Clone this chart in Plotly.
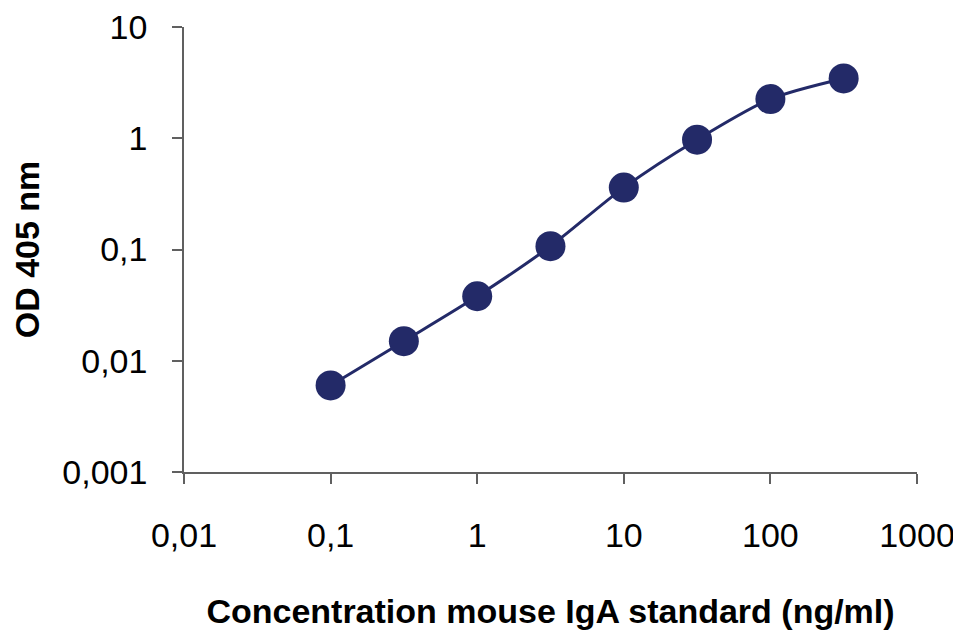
import plotly.graph_objects as go

conc = [0.1, 0.316, 1, 3.16, 10, 31.6, 100, 316]
od = [0.006, 0.015, 0.038, 0.107, 0.36, 0.97, 2.25, 3.45]

x_tickvals = [0.01, 0.1, 1, 10, 100, 1000]
x_ticktext = ["0,01", "0,1", "1", "10", "100", "1000"]
y_tickvals = [0.001, 0.01, 0.1, 1, 10]
y_ticktext = ["0,001", "0,01", "0,1", "1", "10"]

navy = "#232A68"
axis_col = "#606060"

fig = go.Figure()
fig.add_trace(go.Scatter(
    x=conc, y=od, mode="lines+markers",
    line=dict(color=navy, width=3, shape="spline", smoothing=0.8),
    marker=dict(color=navy, size=30, line=dict(width=0)),
    showlegend=False,
    cliponaxis=False,
))

font_family = "Liberation Sans, Arial, sans-serif"
fig.update_layout(
    width=953, height=624,
    margin=dict(l=176, r=44, t=19, b=160),
    paper_bgcolor="white", plot_bgcolor="white",
    font=dict(family=font_family, color="black"),
)
fig.update_xaxes(
    type="log", range=[-2, 3], automargin=False,
    tickvals=x_tickvals, ticktext=x_ticktext, ticklabeloverflow="allow",
    tickfont=dict(size=34, family=font_family, color="black"),
    showgrid=False, zeroline=False,
    showline=True, linecolor=axis_col, linewidth=1.5,
    ticks="outside", ticklen=10, tickcolor=axis_col, tickwidth=1.5,
    ticklabelstandoff=22,
    title=dict(text="<b>Concentration mouse IgA standard (ng/ml)</b>",
               font=dict(size=34, family=font_family, color="black"), standoff=47),
)
fig.update_yaxes(
    type="log", range=[-3, 1], automargin=False,
    tickvals=y_tickvals, ticktext=y_ticktext, ticklabeloverflow="allow",
    tickfont=dict(size=34, family=font_family, color="black"),
    showgrid=False, zeroline=False,
    showline=True, linecolor=axis_col, linewidth=1.5,
    ticks="outside", ticklen=10, tickcolor=axis_col, tickwidth=1.5,
    ticklabelstandoff=18,
    title=dict(text="<b>OD 405 nm</b>",
               font=dict(size=34, family=font_family, color="black"), standoff=24),
)

fig.write_html("out.html")
